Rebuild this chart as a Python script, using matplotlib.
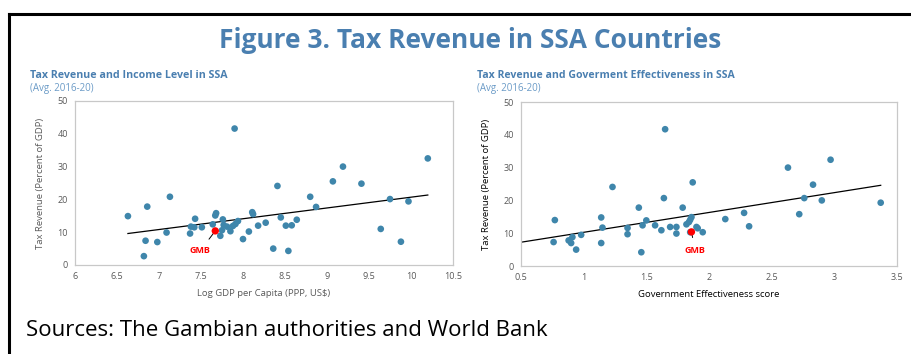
import numpy as np
import matplotlib.pyplot as plt
from matplotlib.lines import Line2D

# data
gdp_x = [6.63, 6.84, 6.86, 6.82, 6.98, 7.09, 7.13, 7.37, 7.38, 7.42, 7.43, 7.51,
         7.64, 7.67, 7.68, 7.73, 7.75, 7.76, 7.77, 7.81, 7.85, 7.88, 7.91, 7.94,
         7.90, 8.00, 8.07, 8.11, 8.12, 8.18, 8.27, 8.36, 8.41, 8.45, 8.51, 8.54,
         8.58, 8.64, 8.80, 8.87, 9.07, 9.19, 9.41, 9.64, 9.75, 9.88, 9.97, 10.20]
gdp_y = [14.9, 7.4, 17.8, 2.7, 7.0, 9.9, 20.8, 9.6, 11.7, 11.5, 14.1, 11.5,
         12.4, 15.1, 15.8, 8.9, 10.6, 13.9, 12.2, 11.7, 10.3, 11.9, 12.5, 13.4,
         41.6, 7.9, 10.2, 16.1, 15.5, 12.0, 12.9, 5.0, 24.1, 14.5, 12.0, 4.3,
         12.1, 13.8, 20.8, 17.7, 25.5, 30.0, 24.8, 11.0, 20.1, 7.1, 19.4, 32.5]
gmb_gdp = (7.67, 10.4)

ge_x = [0.77, 0.76, 0.88, 0.90, 0.91, 0.94, 0.98, 1.14, 1.15, 1.14, 1.23, 1.35,
        1.35, 1.44, 1.46, 1.47, 1.50, 1.57, 1.62, 1.64, 1.65, 1.69, 1.74, 1.74,
        1.79, 1.82, 1.84, 1.85, 1.86, 1.87, 1.85, 1.90, 1.91, 1.95, 2.13, 2.28,
        2.32, 2.63, 2.72, 2.76, 2.83, 2.90, 2.97, 3.37]
ge_y = [14.0, 7.3, 7.8, 7.0, 8.8, 5.0, 9.5, 14.8, 11.7, 7.0, 24.1, 11.6,
        9.7, 17.8, 4.2, 12.4, 13.9, 12.4, 10.9, 20.7, 41.7, 11.9, 11.9, 9.9,
        17.8, 12.7, 13.4, 14.1, 14.9, 25.5, 10.3, 11.9, 11.5, 10.3, 14.3, 16.2,
        12.1, 30.0, 15.8, 20.7, 24.8, 20.0, 32.4, 19.3]
gmb_ge = (1.86, 10.4)

blue = '#3f86ab'
title_blue = '#4a7fb0'
sub_blue = '#6b9bc7'
grey = '#595959'

plt.rcParams['font.family'] = ['Open Sans', 'DejaVu Sans']

fig = plt.figure(figsize=(9.11, 3.54), dpi=100)
W, H = 911, 354

def ax_at(x0, y0, x1, y1):
    return fig.add_axes([x0 / W, 1 - y1 / H, (x1 - x0) / W, (y1 - y0) / H])

# black frame (top and left)
fig.add_artist(Line2D([9 / W, 9 / W], [0, 1 - 13.5 / H], transform=fig.transFigure, color='black', lw=2.2))
fig.add_artist(Line2D([9 / W, 1], [1 - 13.5 / H, 1 - 13.5 / H], transform=fig.transFigure, color='black', lw=2.2))

fig.text(470 / W, 1 - 41 / H, 'Figure 3. Tax Revenue in SSA Countries', ha='center', va='center',
         fontsize=19, fontweight='bold', color=title_blue)

fig.text(30 / W, 1 - 76 / H, 'Tax Revenue and Income Level in SSA', fontsize=7.7, fontweight='bold',
         color=title_blue, va='center')
fig.text(30 / W, 1 - 88 / H, '(Avg. 2016-20)', fontsize=7, color=sub_blue, va='center')
fig.text(477 / W, 1 - 76 / H, 'Tax Revenue and Goverment Effectiveness in SSA', fontsize=7.6,
         fontweight='bold', color=title_blue, va='center')
fig.text(477 / W, 1 - 88 / H, '(Avg. 2016-20)', fontsize=7, color=sub_blue, va='center')

fig.text(26 / W, 1 - 331 / H, 'Sources: The Gambian authorities and World Bank', fontsize=16,
         color='black', va='center')


def style(ax, xlim, xticks, xlabel, lab_color):
    ax.set_xlim(*xlim)
    ax.set_ylim(0, 50)
    ax.set_xticks(xticks)
    ax.set_xticklabels([('%g' % t) for t in xticks])
    ax.set_yticks(range(0, 51, 10))
    for s in ax.spines.values():
        s.set_color('#c8c8c8')
        s.set_linewidth(0.9)
    ax.tick_params(length=0, labelsize=6.5, colors=grey, pad=5)
    ax.set_xlabel(xlabel, fontsize=6.8, color=lab_color, labelpad=6)
    ax.set_ylabel('Tax Revenue (Percent of GDP)', fontsize=6.8, color=lab_color, labelpad=9)


# left panel
ax1 = ax_at(75, 101, 453, 265)
style(ax1, (6, 10.5), [6, 6.5, 7, 7.5, 8, 8.5, 9, 9.5, 10, 10.5], 'Log GDP per Capita (PPP, US$)', grey)
k1, b1 = np.polyfit(gdp_x + [gmb_gdp[0]], gdp_y + [gmb_gdp[1]], 1)
xs1 = np.array([min(gdp_x), max(gdp_x)])
ax1.plot(xs1, k1 * xs1 + b1, color='black', lw=0.9, zorder=2)
ax1.scatter(gdp_x, gdp_y, s=23, color=blue, edgecolors='none', zorder=3)
ax1.scatter([gmb_gdp[0]], [gmb_gdp[1]], s=28, color='#ff0000', edgecolors='none', zorder=4)
ax1.annotate('GMB', xy=gmb_gdp, xytext=(7.49, 4.3), fontsize=6.5, fontweight='bold', color='#ff0000',
             ha='center', va='center',
             arrowprops=dict(arrowstyle='-', color='black', lw=0.7, shrinkA=4, shrinkB=2))

# right panel
ax2 = ax_at(521, 102, 897, 266)
style(ax2, (0.5, 3.5), [0.5, 1, 1.5, 2, 2.5, 3, 3.5], 'Government Effectiveness score', 'black')
k2, b2 = np.polyfit(ge_x + [gmb_ge[0]], ge_y + [gmb_ge[1]], 1)
xs2 = np.array([0.5, max(ge_x)])
ax2.plot(xs2, k2 * xs2 + b2, color='black', lw=0.9, zorder=2)
ax2.scatter(ge_x, ge_y, s=23, color=blue, edgecolors='none', zorder=3)
ax2.scatter([gmb_ge[0]], [gmb_ge[1]], s=28, color='#ff0000', edgecolors='none', zorder=4)
ax2.annotate('GMB', xy=gmb_ge, xytext=(1.89, 4.8), fontsize=6.5, fontweight='bold', color='#ff0000',
             ha='center', va='center',
             arrowprops=dict(arrowstyle='-', color='black', lw=0.7, shrinkA=4, shrinkB=2))

fig.savefig('out.png', dpi=100)
